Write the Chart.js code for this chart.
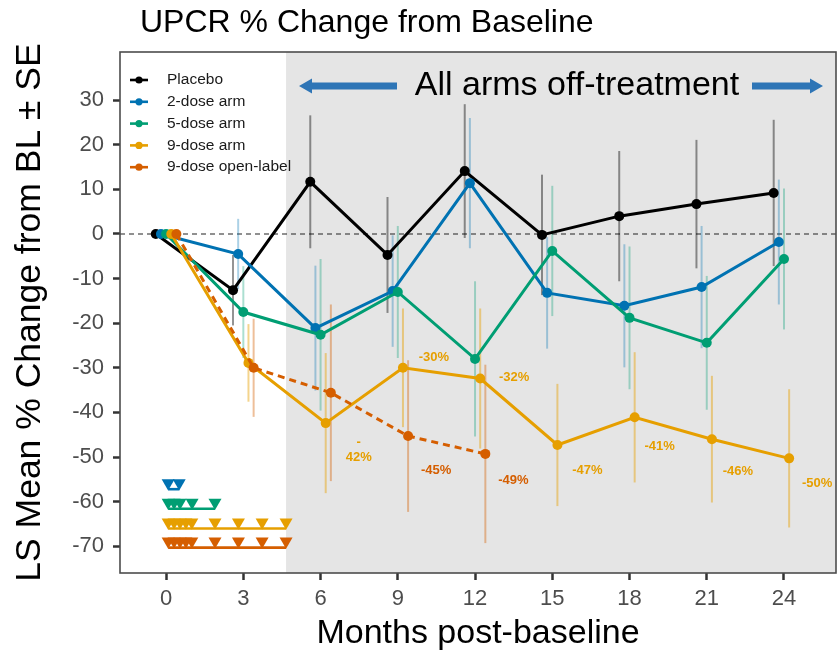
<!DOCTYPE html>
<html>
<head>
<meta charset="utf-8">
<title>UPCR % Change from Baseline</title>
<script src="https://cdn.jsdelivr.net/npm/chart.js@4.4.1/dist/chart.umd.min.js"></script>
<style>
  html, body { margin: 0; padding: 0; background: #fff; }
  #wrap { width: 838px; height: 654px; }
</style>
</head>
<body>
<div id="wrap"><canvas id="upcrChart" width="838" height="654"></canvas></div>
<script>
// Data
const months = [0, 3, 6, 9, 12, 15, 18, 21, 24];
const xTicks = [0, 3, 6, 9, 12, 15, 18, 21, 24];
const yTicks = [-70, -60, -50, -40, -30, -20, -10, 0, 10, 20, 30];

const seriesNames = ['Placebo', '2-dose arm', '5-dose arm', '9-dose arm', '9-dose open-label'];

// LS mean % change from baseline
const placebo = [0, -12.6, 11.7, -4.7, 14.1, -0.2, 4.0, 6.7, 9.2];
const dose2 = [0, -4.5, -21.1, -12.8, 11.4, -13.2, -16.1, -11.9, -1.8];
const dose5 = [0, -17.5, -22.6, -13.0, -28.0, -3.8, -18.8, -24.4, -5.6];
const dose9 = [0, -28.9, -42.4, -30.0, -32.4, -47.3, -41.1, -46.0, -50.3];
const dose9OL = [0, -30.0, -35.6, -45.3, -49.3];

// standard errors
const placeboSE = [0, 7.9, 14.9, 13.0, 15.0, 13.5, 14.6, 14.4, 16.4];
const dose2SE = [0, 7.9, 14.0, 12.5, 14.6, 12.5, 13.8, 13.7, 14.0];
const dose5SE = [0, 10.3, 17.0, 14.8, 17.4, 14.6, 16.0, 15.0, 15.8];
const dose9SE = [0, 8.7, 15.7, 13.3, 15.7, 13.7, 14.6, 14.2, 15.5];
const dose9OLSE = [0, 11.0, 19.8, 17.0, 20.0];

// value labels
const dose9Labels = ['', '', '-\n42%', '-30%', '-32%', '-47%', '-41%', '-46%', '-50%'];
const dose9OLLabels = ['', '', '', '-45%', '-49%'];

// dosing times (months) and the level of each dosing row
const dose2Times = [0.08, 0.51];
const dose5Times = [0.08, 0.31, 0.54, 1.01, 1.9];
const dose9Times = [0.08, 0.31, 0.54, 0.77, 1.0, 1.9, 2.81, 3.73, 4.66];
const dose9OLTimes = [0.08, 0.31, 0.54, 0.77, 1.0, 1.9, 2.81, 3.73, 4.66];
const doseRowY = [-55.8, -60.2, -64.6, -68.9];

const offTreatmentStart = 4.66;
const offTreatmentText = 'All arms off-treatment';
const chartTitle = 'UPCR % Change from Baseline';

// Styles
const FONT = "'Liberation Sans', Arial, Helvetica, sans-serif";
const colors = ['#000000', '#0072B2', '#009E73', '#E69F00', '#D55E00'];
const barColors = ['rgba(0,0,0,0.42)', 'rgba(0,114,178,0.33)', 'rgba(0,158,115,0.33)', 'rgba(230,159,0,0.45)', 'rgba(213,94,0,0.4)'];
const dodge = [-0.4, -0.2, 0, 0.2, 0.4];
const series = [placebo, dose2, dose5, dose9, dose9OL];
const seList = [placeboSE, dose2SE, dose5SE, dose9SE, dose9OLSE];
const labelList = [null, null, null, dose9Labels, dose9OLLabels];
// pixel offsets of value labels from their point
const labelOffsets = [null, null, null,
    [null, null, [33, 27], [31, -10], [34, -1], [30, 25], [25, 29], [26, 32], [28, 25]],
    [null, null, null, [28, 34], [28, 27]]];

const datasets = series.map((vals, k) => ({
    label: seriesNames[k],
    data: vals.map((v, i) => ({ x: months[i] + dodge[k], y: v })),
    borderColor: colors[k],
    backgroundColor: colors[k],
    borderWidth: 3,
    borderDash: k === 4 ? [7, 5] : [],
    pointRadius: 5,
    pointHoverRadius: 5,
    pointBorderWidth: 0,
    tension: 0,
    order: 10 - k,
    se: seList[k],
    valueLabels: labelList[k]
}));

[dose2Times, dose5Times, dose9Times, dose9OLTimes].forEach((times, r) => {
    datasets.push({
        label: 'dosing ' + seriesNames[r + 1],
        isDose: true,
        data: times.map(t => ({ x: t, y: doseRowY[r] })),
        showLine: false,
        pointStyle: 'triangle',
        rotation: 180,
        pointRadius: 7.5,
        pointHoverRadius: 7.5,
        backgroundColor: colors[r + 1],
        borderColor: colors[r + 1],
        pointBorderWidth: 0,
        order: 20
    });
});

const backdropPlugin = {
    id: 'backdrop',
    beforeDatasetsDraw(chart) {
        const { ctx, chartArea: a, scales: { x, y } } = chart;
        ctx.save();
        // off-treatment shading
        const sx = x.getPixelForValue(offTreatmentStart);
        ctx.fillStyle = '#E5E5E5';
        ctx.fillRect(sx, a.top, a.right - sx, a.bottom - a.top);
        // zero reference line
        const y0 = y.getPixelForValue(0);
        ctx.strokeStyle = '#222';
        ctx.lineWidth = 1.2;
        ctx.setLineDash([5, 4]);
        ctx.beginPath();
        ctx.moveTo(a.left, y0);
        ctx.lineTo(a.right, y0);
        ctx.stroke();
        ctx.setLineDash([]);
        // error bars
        chart.data.datasets.forEach((ds, k) => {
            if (!ds.se) return;
            ctx.strokeStyle = barColors[k];
            ctx.lineWidth = 2;
            ds.data.forEach((p, i) => {
                const se = ds.se[i];
                if (!se) return;
                const px = x.getPixelForValue(p.x);
                ctx.beginPath();
                ctx.moveTo(px, y.getPixelForValue(p.y + se));
                ctx.lineTo(px, y.getPixelForValue(p.y - se));
                ctx.stroke();
            });
        });
        ctx.restore();
    }
};

const overlayPlugin = {
    id: 'overlay',
    afterDatasetsDraw(chart) {
        const { ctx, chartArea: a } = chart;
        ctx.save();
        // dosing row baselines at the triangle tips
        chart.data.datasets.forEach((ds, k) => {
            if (!ds.isDose) return;
            const pts = chart.getDatasetMeta(k).data;
            const tipY = pts[0].y + ds.pointRadius - 1.2;
            ctx.strokeStyle = ds.backgroundColor;
            ctx.lineWidth = 2.6;
            ctx.beginPath();
            ctx.moveTo(pts[0].x, tipY);
            ctx.lineTo(pts[pts.length - 1].x, tipY);
            ctx.stroke();
        });
        // value labels
        ctx.font = 'bold 13px ' + FONT;
        ctx.textAlign = 'center';
        ctx.textBaseline = 'middle';
        chart.data.datasets.forEach((ds, k) => {
            if (!ds.valueLabels) return;
            const pts = chart.getDatasetMeta(k).data;
            ctx.fillStyle = colors[k];
            ds.valueLabels.forEach((txt, i) => {
                if (!txt) return;
                const off = labelOffsets[k][i];
                const lines = txt.split('\n');
                lines.forEach((ln, j) => {
                    ctx.fillText(ln, pts[i].x + off[0], pts[i].y + off[1] + (j - (lines.length - 1) / 2) * 15);
                });
            });
        });
        // panel border
        ctx.strokeStyle = '#4D4D4D';
        ctx.lineWidth = 1.6;
        ctx.strokeRect(a.left, a.top, a.right - a.left, a.bottom - a.top);
        ctx.restore();
    },
    afterDraw(chart) {
        const { ctx, chartArea: a } = chart;
        ctx.save();
        // title
        ctx.fillStyle = '#000';
        ctx.font = '32px ' + FONT;
        ctx.textAlign = 'left';
        ctx.textBaseline = 'middle';
        ctx.fillText(chartTitle, 140, 23);

        // legend
        ctx.font = '15.5px ' + FONT;
        chart.data.datasets.forEach((ds, k) => {
            if (ds.isDose) return;
            const ly = a.top + 28 + k * 21.8;
            const lx = a.left + 10;
            ctx.strokeStyle = colors[k];
            ctx.fillStyle = colors[k];
            ctx.lineWidth = 2.6;
            ctx.beginPath();
            ctx.moveTo(lx, ly);
            ctx.lineTo(lx + 18, ly);
            ctx.stroke();
            ctx.beginPath();
            ctx.arc(lx + 9, ly, 3.6, 0, Math.PI * 2);
            ctx.fill();
            ctx.fillStyle = '#1a1a1a';
            ctx.fillText(ds.label, lx + 37, ly);
        });

        // off-treatment annotation
        const ay = 86;
        ctx.font = '34px ' + FONT;
        ctx.textAlign = 'center';
        ctx.fillStyle = '#000';
        ctx.fillText(offTreatmentText, 577, ay);
        ctx.fillStyle = '#2E75B6';
        drawArrow(ctx, 397, 299, ay);
        drawArrow(ctx, 752, 823, ay);
        ctx.restore();
    }
};

function drawArrow(ctx, from, to, y) {
    const dir = to > from ? 1 : -1;
    const headLen = 13, headHalf = 7.5, shaftHalf = 3.5;
    const base = to - dir * headLen;
    ctx.beginPath();
    ctx.moveTo(from, y - shaftHalf);
    ctx.lineTo(base, y - shaftHalf);
    ctx.lineTo(base, y - headHalf);
    ctx.lineTo(to, y);
    ctx.lineTo(base, y + headHalf);
    ctx.lineTo(base, y + shaftHalf);
    ctx.lineTo(from, y + shaftHalf);
    ctx.closePath();
    ctx.fill();
}

const tickFont = { family: FONT, size: 22 };

new Chart(document.getElementById('upcrChart').getContext('2d'), {
    type: 'line',
    data: { datasets: datasets },
    options: {
        responsive: false,
        animation: false,
        devicePixelRatio: 1,
        layout: { autoPadding: false, padding: { top: 52, right: 2, left: 0, bottom: 0 } },
        plugins: {
            legend: { display: false },
            tooltip: { enabled: false },
            title: { display: false }
        },
        scales: {
            x: {
                type: 'linear',
                min: -1.79,
                max: 26.02,
                afterBuildTicks: (s) => { s.ticks = xTicks.map(v => ({ value: v })); },
                afterFit: (s) => { s.height = 81; s.paddingLeft = 0; s.paddingRight = 0; },
                ticks: { font: tickFont, color: '#4D4D4D', padding: 6, maxRotation: 0 },
                grid: { drawOnChartArea: false, drawTicks: true, tickLength: 7, tickColor: '#333', tickWidth: 2.5 },
                border: { display: false },
                title: {
                    display: true,
                    text: 'Months post-baseline',
                    font: { family: FONT, size: 34 },
                    color: '#000',
                    padding: { top: 0, bottom: 0 }
                }
            },
            y: {
                type: 'linear',
                min: -76,
                max: 40.8,
                afterBuildTicks: (s) => { s.ticks = yTicks.map(v => ({ value: v })); },
                afterFit: (s) => { s.width = 120; s.paddingTop = 0; s.paddingBottom = 0; },
                ticks: { font: tickFont, color: '#4D4D4D', padding: 9 },
                grid: { drawOnChartArea: false, drawTicks: true, tickLength: 7, tickColor: '#333', tickWidth: 2.5 },
                border: { display: false },
                title: {
                    display: true,
                    text: 'LS Mean % Change from BL ± SE',
                    font: { family: FONT, size: 35.5 },
                    color: '#000',
                    padding: { top: 9, bottom: 0 }
                }
            }
        }
    },
    plugins: [backdropPlugin, overlayPlugin]
});
</script>
</body>
</html>
